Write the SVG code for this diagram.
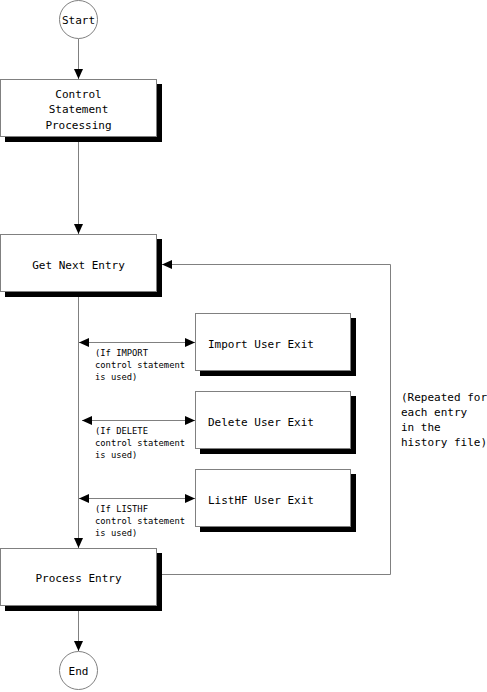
<svg xmlns="http://www.w3.org/2000/svg" width="487" height="692" viewBox="0 0 487 692">
<style>
.box{fill:#fff;stroke:#808080;stroke-width:1}
.sh{fill:#000}
.circ{fill:#fff;stroke:#808080;stroke-width:1}
.ln{fill:none;stroke:#808080;stroke-width:1}
.t{font-family:"DejaVu Sans Mono","Liberation Mono",monospace;font-size:11px;fill:#000}
.s{font-family:"DejaVu Sans Mono","Liberation Mono",monospace;font-size:8.8px;fill:#000}
.c{text-anchor:middle}
</style>
<defs>
<marker id="ah" markerUnits="userSpaceOnUse" markerWidth="10" markerHeight="10" refX="10" refY="4.5" orient="auto-start-reverse" viewBox="0 0 10 9">
<path d="M0,0 L10,4.5 L0,9 z" fill="#000"/>
</marker>
</defs>
<g id="connectors">
<line class="ln" x1="78.5" y1="39" x2="78.5" y2="79" marker-end="url(#ah)"/>
<line class="ln" x1="78.5" y1="142" x2="78.5" y2="234" marker-end="url(#ah)"/>
<polyline class="ln" points="390.5,574.5 390.5,264.5 162,264.5" marker-end="url(#ah)"/>
<line class="ln" x1="162" y1="574.5" x2="390.5" y2="574.5"/>
<line class="ln" x1="78.5" y1="297" x2="78.5" y2="548" marker-end="url(#ah)"/>
<line class="ln" x1="79" y1="342.5" x2="195" y2="342.5" marker-start="url(#ah)" marker-end="url(#ah)"/>
<line class="ln" x1="82" y1="420.5" x2="195" y2="420.5" marker-start="url(#ah)" marker-end="url(#ah)"/>
<line class="ln" x1="79" y1="498.5" x2="195" y2="498.5" marker-start="url(#ah)" marker-end="url(#ah)"/>
<line class="ln" x1="78.5" y1="611" x2="78.5" y2="651" marker-end="url(#ah)"/>
</g>
<g id="start">
<circle class="circ" cx="78.5" cy="19.5" r="19"/>
<text class="t c" x="78.5" y="23.5">Start</text>
</g>
<g id="control">
<rect class="sh" x="5" y="84" width="157" height="58"/>
<rect class="box" x="0.5" y="79.5" width="156" height="57"/>
<text class="t c" x="78.5" y="98">Control</text>
<text class="t c" x="78.5" y="113">Statement</text>
<text class="t c" x="78.5" y="129">Processing</text>
</g>
<g id="getnext">
<rect class="sh" x="5" y="239" width="157" height="58"/>
<rect class="box" x="0.5" y="234.5" width="156" height="57"/>
<text class="t c" x="78.5" y="269">Get Next Entry</text>
</g>
<g id="import">
<rect class="sh" x="200" y="318" width="156" height="58"/>
<rect class="box" x="195.5" y="313.5" width="155" height="57"/>
<text class="t" x="208" y="348">Import User Exit</text>
</g>
<g id="import-label">
<text class="s" x="95" y="356">(If IMPORT</text>
<text class="s" x="95" y="368">control statement</text>
<text class="s" x="95" y="380">is used)</text>
</g>
<g id="delete">
<rect class="sh" x="200" y="396" width="156" height="58"/>
<rect class="box" x="195.5" y="391.5" width="155" height="57"/>
<text class="t" x="208" y="426">Delete User Exit</text>
</g>
<g id="delete-label">
<text class="s" x="95" y="434">(If DELETE</text>
<text class="s" x="95" y="446">control statement</text>
<text class="s" x="95" y="458">is used)</text>
</g>
<g id="listhf">
<rect class="sh" x="200" y="474" width="156" height="58"/>
<rect class="box" x="195.5" y="469.5" width="155" height="57"/>
<text class="t" x="208" y="504">ListHF User Exit</text>
</g>
<g id="listhf-label">
<text class="s" x="95" y="512">(If LISTHF</text>
<text class="s" x="95" y="524">control statement</text>
<text class="s" x="95" y="536">is used)</text>
</g>
<g id="process">
<rect class="sh" x="5" y="553" width="157" height="58"/>
<rect class="box" x="0.5" y="548.5" width="156" height="57"/>
<text class="t c" x="78.5" y="582">Process Entry</text>
</g>
<g id="repeat-label">
<text class="t" x="401" y="401">(Repeated for</text>
<text class="t" x="401" y="416">each entry</text>
<text class="t" x="401" y="431">in the</text>
<text class="t" x="401" y="446">history file)</text>
</g>
<g id="end">
<circle class="circ" cx="78.5" cy="670.5" r="19"/>
<text class="t c" x="78.5" y="674.5">End</text>
</g>
</svg>
